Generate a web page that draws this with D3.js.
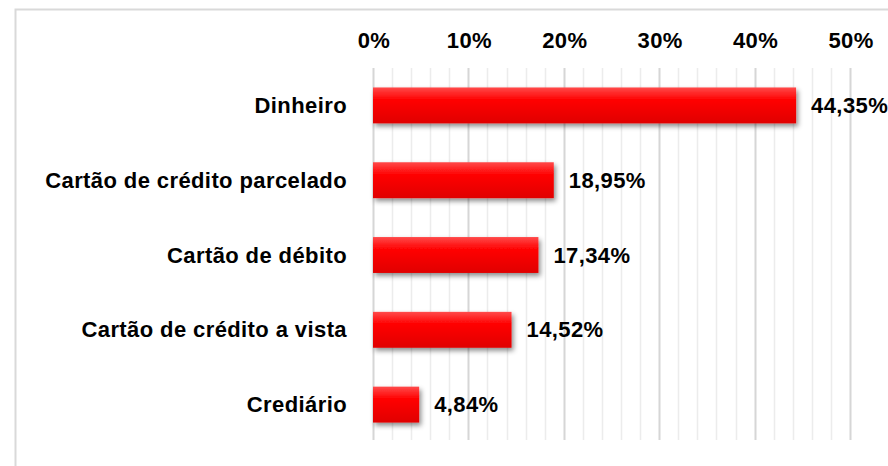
<!DOCTYPE html>
<html>
<head>
<meta charset="utf-8">
<style>
    body { margin: 0; background: #fff; }
    svg { display: block; font-family: 'Liberation Sans', Arial, sans-serif; }
    .lbl { font-weight: bold; font-size: 22px; letter-spacing: 0.4px; fill: #000; }
</style>
</head>
<body>
<svg width="888" height="466"></svg>
<script src="https://d3js.org/d3.v7.min.js"></script>
<script>
    const categories = ["Dinheiro", "Cartão de crédito parcelado", "Cartão de débito", "Cartão de crédito a vista", "Crediário"]
    const values = [44.35, 18.95, 17.34, 14.52, 4.84]
    const valueLabels = ["44,35%", "18,95%", "17,34%", "14,52%", "4,84%"]
    const ticks = [0, 10, 20, 30, 40, 50]
    const minorTicks = d3.range(0, 51, 2)

    const svg = d3.select("svg")

    // outer frame
    svg.append("rect")
        .attr("x", 15.5).attr("y", 9.5)
        .attr("width", 900).attr("height", 480)
        .style("fill", "none")
        .style("stroke", "#d9d9d9")
        .style("stroke-width", 2)

    const x = d3.scaleLinear().domain([0, 50]).range([373, 850])
    const y = d3.scaleBand().domain(categories).range([68, 442]).paddingInner(0.52).paddingOuter(0.26)

    // gradient + shadow for the bars
    const defs = svg.append("defs")
    const grad = defs.append("linearGradient").attr("id", "barGrad")
        .attr("x1", 0).attr("y1", 0).attr("x2", 0).attr("y2", 1)
    grad.append("stop").attr("offset", "0%").attr("stop-color", "#ff4a4a")
    grad.append("stop").attr("offset", "35%").attr("stop-color", "#ff0000")
    grad.append("stop").attr("offset", "100%").attr("stop-color", "#e00000")
    const f = defs.append("filter").attr("id", "shadow")
        .attr("x", "-10%").attr("y", "-20%").attr("width", "130%").attr("height", "160%")
    f.append("feDropShadow").attr("dx", 2).attr("dy", 3).attr("stdDeviation", 2.5)
        .attr("flood-color", "#000").attr("flood-opacity", 0.45)

    // grid
    svg.append("g").selectAll("line.minor")
        .data(minorTicks.filter(d => d % 10 !== 0))
        .join("line")
        .attr("x1", d => Math.round(x(d)) + 0.5).attr("x2", d => Math.round(x(d)) + 0.5)
        .attr("y1", 68).attr("y2", 440)
        .style("stroke", "#ececec").style("stroke-width", 1.5)
    svg.append("g").selectAll("line.major")
        .data(ticks)
        .join("line")
        .attr("x1", d => Math.round(x(d)) + 0.5).attr("x2", d => Math.round(x(d)) + 0.5)
        .attr("y1", 68).attr("y2", 440)
        .style("stroke", "#d6d6d6").style("stroke-width", 2)

    // top axis labels
    svg.append("g").selectAll("text")
        .data(ticks)
        .join("text")
        .attr("class", "lbl")
        .attr("x", d => x(d) + 1)
        .attr("y", 48)
        .attr("text-anchor", "middle")
        .text(d => d + "%")

    // bars
    svg.append("g").selectAll("rect")
        .data(values)
        .join("rect")
        .attr("x", x(0))
        .attr("y", (d, i) => y(categories[i]))
        .attr("width", d => x(d) - x(0))
        .attr("height", y.bandwidth())
        .style("fill", "url(#barGrad)")
        .attr("filter", "url(#shadow)")

    // category labels
    svg.append("g").selectAll("text")
        .data(categories)
        .join("text")
        .attr("class", "lbl")
        .attr("x", 347)
        .attr("y", d => y(d) + y.bandwidth() / 2 + 7.5)
        .attr("text-anchor", "end")
        .text(d => d)

    // value labels
    svg.append("g").selectAll("text")
        .data(values)
        .join("text")
        .attr("class", "lbl")
        .attr("x", d => x(d) + 15)
        .attr("y", (d, i) => y(categories[i]) + y.bandwidth() / 2 + 7.5)
        .text((d, i) => valueLabels[i])
</script>
</body>
</html>
